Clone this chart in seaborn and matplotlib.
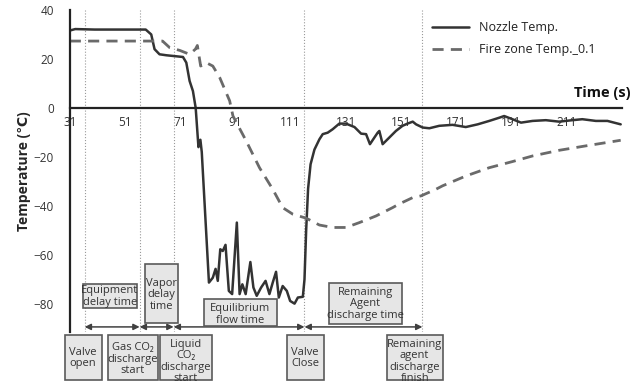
import numpy as np
import pandas as pd
import matplotlib
matplotlib.use("Agg")
import matplotlib.pyplot as plt
import matplotlib.transforms as mtransforms
from matplotlib.patches import Rectangle
import seaborn as sns

# ---------------- data ----------------
nozzle_time = [31, 33, 40, 50, 58.5, 60.5, 61.7, 63.5, 66, 72, 73.2, 74.4, 75.6, 76.6,
               77.6, 78.3, 78.8, 81.4, 82.8, 83.8, 84.6, 85.5, 86.4, 87.4, 88.6, 89.8,
               91.5, 92.5, 93.5, 94.7, 96.4, 97.5, 98.7, 100.3, 101.9, 103.3, 104.5,
               105.7, 106.7, 108.1, 109.6, 110.8, 112.4, 113.6, 115.4, 116.0, 116.6,
               117.3, 118.2, 119.6, 121.4, 122.6, 124.4, 126.2, 128.6, 131, 134.1,
               136.5, 138.3, 139.7, 141.3, 142.5, 143.1, 144.3, 146.7, 149.1, 151.5,
               153.3, 155.2, 156.4, 158.8, 161.2, 164.8, 169.6, 174.4, 178.7, 182.9,
               186.5, 188.3, 191.3, 194.4, 198.6, 203.4, 208.2, 213, 216.6, 221.5,
               225.7, 230.5]
nozzle_temp = [31.6, 32.2, 32, 32, 32, 30, 24, 21.9, 21.5, 20.8, 18.5, 11, 6.9, 0,
               -16, -13, -18, -71.3, -69.3, -65.7, -70.6, -57.7, -58.4, -55.9, -74.7, -76,
               -46.8, -76, -72, -76, -62.9, -73.3, -76.7, -73.3, -70.6, -76, -71.3,
               -66.9, -77.4, -72.7, -74.7, -78.8, -79.9, -77.4, -77.1, -70, -50,
               -33, -23, -17, -12.8, -10.7, -10.1, -8.7, -6.4, -6.4, -7.8,
               -10.5, -10.7, -14.8, -12.1, -10.1, -9.4, -14.8, -12.1, -9.4, -7.3,
               -6.4, -5.6, -6.7, -8, -8.3, -7.3, -6.9, -7.8, -6.7, -5.3,
               -4, -3.3, -4.6, -6, -5.3, -5, -5.6, -5, -4.6, -5.3,
               -5.3, -6.7]

fire_time = [31, 64.6, 67.2, 70.8, 74.4, 76.5, 77.2, 78.4, 80.4, 82.8, 85.3, 88.9, 90.1,
             94.9, 99.7, 104.5, 108.1, 111.8, 116.6, 121.4, 126.2, 131, 135.9, 141.9,
             147.9, 150.3, 155.2, 158.2, 163.6, 166, 174.4, 182.9, 191.3, 198.6, 208.2,
             217.8, 230.5]
fire_temp = [27.3, 27.3, 24.6, 23.5, 21.9, 24, 25.5, 17.1, 18.5, 17.1, 12.4, 2.9, -3.3,
             -13.5, -24.4, -33.2, -40.7, -43.4, -45, -47.8, -48.8, -48.8, -46.8, -44.1,
             -40.7, -39.2, -36.6, -35.9, -33.2, -31.8, -27.8, -24.4, -21.9, -19.6, -17.3,
             -15.5, -13.2]

series_names = ["Nozzle Temp.", "Fire zone Temp._0.1"]

event_times = [36.4, 56.3, 68.6, 116.0, 158.7]
event_labels = ["Valve\nopen", "Gas CO\u2082\ndischarge\nstart", "Liquid\nCO\u2082\ndischarge\nstart",
                "Valve\nClose", "Remaining\nagent\ndischarge\nfinish"]
period_labels = ["Equipment\ndelay time", "Vapor\ndelay\ntime", "Equilibrium\nflow time",
                 "Remaining\nAgent\ndischarge time"]

x_ticks = list(range(31, 232, 10))
x_tick_labels = [str(t) if (t - 31) % 20 == 0 and t <= 211 else "" for t in x_ticks]
y_ticks = [40, 20, 0, -20, -40, -60, -80]

# ---------------- layout of annotation boxes ----------------
# event boxes below the axis: (x0, x1) in data, (y0, y1) in axes fraction, text centre y
event_box_x = [(29.2, 42.5), (44.7, 62.8), (63.5, 82.4), (109.5, 122.9), (145.8, 166.0)]
event_box_y = (-0.149, -0.009)
event_text_y = [-0.081, -0.084, -0.092, -0.081, -0.092]
# period boxes inside the axes: x0, x1, y0, y1 (data), text centre y
period_box = [(35.7, 55.2, -81.6, -72.0), (58.2, 70.1, -87.8, -63.7),
              (79.5, 105.9, -89.0, -78.0), (124.7, 151.4, -88.2, -71.4)]
period_text_y = [-77.0, -76.3, -84.3, -80.0]

# ---------------- style ----------------
sns.set_style("white")
plt.rcParams['font.family'] = ['Open Sans', 'DejaVu Sans']

fig = plt.figure(figsize=(6.4, 3.83), dpi=100)
ax = fig.add_axes([0.109, 0.133, 0.863, 0.841])

noz = pd.DataFrame({"time": nozzle_time, "temp": nozzle_temp})
fire = pd.DataFrame({"time": fire_time, "temp": fire_temp})

sns.lineplot(data=noz, x="time", y="temp", ax=ax, color="#333333", lw=1.8,
             label=series_names[0], estimator=None, sort=False)
sns.lineplot(data=fire, x="time", y="temp", ax=ax, color="#6a6a6a", lw=2.0,
             label=series_names[1], estimator=None, sort=False)
ax.lines[1].set_dashes((4, 2.6))

ax.set_xlim(31, 231)
ax.set_ylim(-91.5, 40)

for s in ["top", "right"]:
    ax.spines[s].set_visible(False)
ax.spines["bottom"].set_position(("data", 0))
for s in ["left", "bottom"]:
    ax.spines[s].set_color("#222222")
    ax.spines[s].set_linewidth(1.6)

ax.set_xticks(x_ticks)
ax.set_xticklabels(x_tick_labels)
ax.set_yticks(y_ticks)
ax.tick_params(axis="x", direction="in", length=4, width=1.2, color="#222222",
               labelsize=8.5, labelcolor="#333333", pad=6)
ax.tick_params(axis="y", direction="inout", length=7, width=1.2, color="#222222",
               labelsize=8.5, labelcolor="#333333", pad=8)

ax.set_xlabel("")
ax.set_ylabel("Temperature (\u2103)", fontsize=10, fontweight="bold", labelpad=2)
ax.text(1.015, 0.742, "Time (s)", transform=ax.transAxes, ha="right", va="center",
        fontsize=10.5, fontweight="bold", color="#111111")

leg = ax.legend(loc="upper left", bbox_to_anchor=(0.636, 1.0), frameon=False,
                fontsize=9, handlelength=2.9, handletextpad=0.8, labelspacing=0.7)
for t in leg.get_texts():
    t.set_color("#222222")

for t in event_times:
    ax.axvline(t, color="#9a9a9a", lw=0.8, ls=":", zorder=1)

arrow_y = -89.4
for i in range(len(event_times) - 1):
    ax.annotate("", xy=(event_times[i + 1], arrow_y), xytext=(event_times[i], arrow_y),
                arrowprops=dict(arrowstyle="<|-|>", color="#404040", lw=1.1,
                                mutation_scale=9, shrinkA=0, shrinkB=0))

fc, ec = "#e6e6e6", "#5a5a5a"
for (x0, x1, y0, y1), ty, lab in zip(period_box, period_text_y, period_labels):
    ax.add_patch(Rectangle((x0, y0), x1 - x0, y1 - y0, fc=fc, ec=ec, lw=1.2, zorder=4))
    ax.text((x0 + x1) / 2, ty, lab, ha="center", va="center", fontsize=8,
            color="#333333", linespacing=1.05, zorder=5)

trans = mtransforms.blended_transform_factory(ax.transData, ax.transAxes)
for (x0, x1), ty, lab in zip(event_box_x, event_text_y, event_labels):
    ax.add_patch(Rectangle((x0, event_box_y[0]), x1 - x0, event_box_y[1] - event_box_y[0],
                           transform=trans, fc=fc, ec=ec, lw=1.2, clip_on=False, zorder=4))
    ax.text((x0 + x1) / 2, ty, lab, transform=trans, ha="center", va="center", fontsize=8,
            color="#333333", linespacing=1.05, clip_on=False, zorder=5)

fig.savefig("out.png", dpi=100)
